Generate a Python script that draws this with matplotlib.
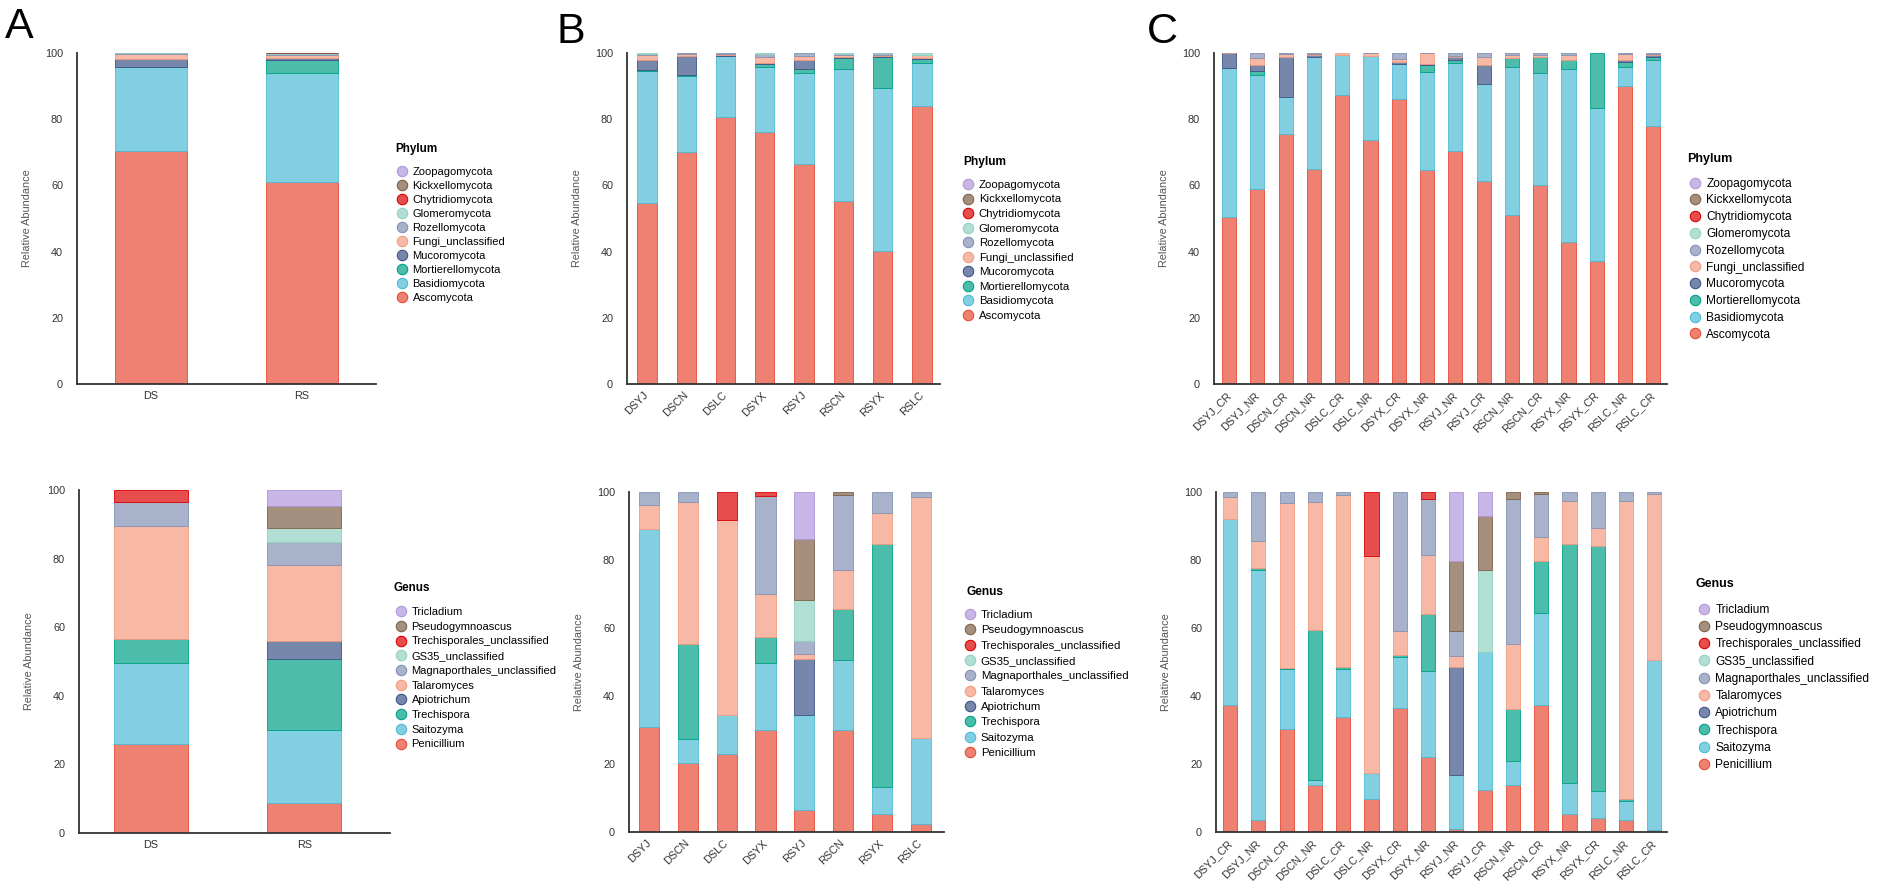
import matplotlib
matplotlib.use('Agg')
import matplotlib.pyplot as plt
from matplotlib.lines import Line2D
import numpy as np

plt.rcParams['font.family'] = ['Liberation Sans', 'DejaVu Sans']

W, H = 1902, 896

# taxa in stacking order (bottom -> top)
phyla = ['Ascomycota', 'Basidiomycota', 'Mortierellomycota', 'Mucoromycota',
         'Fungi_unclassified', 'Rozellomycota', 'Glomeromycota',
         'Chytridiomycota', 'Kickxellomycota', 'Zoopagomycota']
genera = ['Penicillium', 'Saitozyma', 'Trechispora', 'Apiotrichum',
          'Talaromyces', 'Magnaporthales_unclassified', 'GS35_unclassified',
          'Trechisporales_unclassified', 'Pseudogymnoascus', 'Tricladium']

base_colors = ['#E64B35', '#4DBBD5', '#00A087', '#3C5488', '#F39B7F',
               '#8491B4', '#91D1C2', '#DC0000', '#7E6148', '#B097DB']

groups_A = ['DS', 'RS']
groups_B = ['DSYJ', 'DSCN', 'DSLC', 'DSYX', 'RSYJ', 'RSCN', 'RSYX', 'RSLC']
groups_C = ['DSYJ_CR', 'DSYJ_NR', 'DSCN_CR', 'DSCN_NR', 'DSLC_CR', 'DSLC_NR',
            'DSYX_CR', 'DSYX_NR', 'RSYJ_NR', 'RSYJ_CR', 'RSCN_NR', 'RSCN_CR',
            'RSYX_NR', 'RSYX_CR', 'RSLC_NR', 'RSLC_CR']

# relative abundance (%), one row per taxon
phylum_A = [
    [70.5, 61.0],
    [25.3, 33.0],
    [0.1, 4.0],
    [2.4, 0.5],
    [1.3, 1.0],
    [0.3, 0.3],
    [0.1, 0.1],
    [0.0, 0.05],
    [0.0, 0.05],
    [0.0, 0.0],
]
genus_A = [
    [26.0, 8.7],
    [23.7, 21.4],
    [7.0, 20.6],
    [0.0, 5.2],
    [32.8, 22.3],
    [7.1, 6.5],
    [0.0, 4.1],
    [3.4, 0.0],
    [0.0, 6.5],
    [0.0, 4.7],
]

phylum_B = [
    [54.6, 70.0, 80.6, 76.0, 66.5, 55.3, 40.3, 83.9],
    [40.0, 23.2, 18.4, 19.7, 27.5, 39.9, 49.1, 13.1],
    [0.4, 0.1, 0.1, 1.1, 1.2, 3.3, 9.3, 1.2],
    [3.0, 5.8, 0.3, 0.1, 2.8, 0.4, 0.3, 0.3],
    [1.3, 0.7, 0.4, 1.9, 1.2, 0.5, 0.5, 0.8],
    [0.5, 0.2, 0.2, 1.0, 0.8, 0.4, 0.4, 0.2],
    [0.1, 0.0, 0.0, 0.1, 0.0, 0.2, 0.1, 0.5],
    [0.0, 0.0, 0.0, 0.0, 0.0, 0.0, 0.0, 0.0],
    [0.0, 0.0, 0.0, 0.0, 0.0, 0.0, 0.0, 0.0],
    [0.0, 0.0, 0.0, 0.0, 0.0, 0.0, 0.0, 0.0],
]
genus_B = [
    [30.9, 20.3, 23.0, 29.9, 6.4, 29.9, 5.2, 2.3],
    [58.3, 7.0, 11.3, 19.8, 28.1, 20.6, 8.0, 25.3],
    [0.0, 28.1, 0.0, 7.8, 0.0, 15.2, 71.6, 0.0],
    [0.0, 0.0, 0.0, 0.0, 16.5, 0.0, 0.0, 0.0],
    [6.9, 41.7, 57.4, 12.6, 1.3, 11.3, 9.0, 70.9],
    [3.9, 2.9, 0.0, 28.6, 3.9, 22.0, 6.2, 1.5],
    [0.0, 0.0, 0.0, 0.0, 11.9, 0.0, 0.0, 0.0],
    [0.0, 0.0, 8.3, 1.3, 0.0, 0.0, 0.0, 0.0],
    [0.0, 0.0, 0.0, 0.0, 18.1, 1.0, 0.0, 0.0],
    [0.0, 0.0, 0.0, 0.0, 13.8, 0.0, 0.0, 0.0],
]

phylum_C = [
    [50.5, 59.0, 75.5, 65.1, 87.2, 73.8, 86.1, 64.8, 70.3, 61.2, 51.1, 60.2, 42.9, 37.3, 89.9, 77.8],
    [45.0, 34.5, 11.3, 33.7, 12.3, 25.2, 10.6, 29.6, 26.7, 29.5, 44.6, 33.8, 52.4, 46.1, 5.8, 20.0],
    [0.1, 1.0, 0.0, 0.0, 0.0, 0.0, 0.0, 1.9, 1.0, 0.0, 2.8, 4.8, 2.7, 16.6, 1.5, 1.0],
    [4.3, 1.8, 11.9, 0.6, 0.0, 0.0, 0.7, 0.3, 0.8, 5.8, 0.1, 0.0, 0.0, 0.0, 0.6, 0.5],
    [0.1, 2.2, 1.1, 0.4, 0.5, 0.9, 0.8, 3.3, 0.2, 2.3, 0.9, 0.7, 1.3, 0.0, 2.0, 0.3],
    [0.0, 1.5, 0.2, 0.2, 0.0, 0.1, 1.8, 0.1, 1.0, 1.2, 0.5, 0.5, 0.7, 0.0, 0.2, 0.4],
    [0.0] * 16,
    [0.0] * 16,
    [0.0] * 16,
    [0.0] * 16,
]
genus_C = [
    [37.5, 3.4, 30.4, 13.7, 33.8, 9.6, 36.6, 22.1, 0.8, 12.3, 13.9, 37.5, 5.4, 4.1, 3.6, 0.5],
    [54.6, 73.6, 17.4, 1.7, 14.1, 7.9, 14.9, 25.4, 16.1, 40.5, 6.9, 27.0, 9.1, 8.0, 5.5, 50.0],
    [0.0, 0.6, 0.4, 43.9, 0.5, 0.0, 0.6, 16.7, 0.0, 0.0, 15.5, 15.2, 70.3, 72.0, 0.5, 0.0],
    [0.0, 0.0, 0.0, 0.0, 0.0, 0.0, 0.0, 0.0, 31.6, 0.0, 0.0, 0.0, 0.0, 0.0, 0.0, 0.0],
    [6.4, 7.9, 48.7, 37.8, 50.8, 63.7, 7.0, 17.4, 3.3, 0.0, 19.1, 7.1, 12.5, 5.4, 87.9, 49.0],
    [1.5, 14.5, 3.1, 2.9, 0.8, 0.0, 40.9, 16.4, 7.2, 0.0, 42.6, 12.7, 2.7, 10.5, 2.5, 0.5],
    [0.0, 0.0, 0.0, 0.0, 0.0, 0.0, 0.0, 0.0, 0.0, 24.4, 0.0, 0.0, 0.0, 0.0, 0.0, 0.0],
    [0.0, 0.0, 0.0, 0.0, 0.0, 18.8, 0.0, 2.0, 0.0, 0.0, 0.0, 0.0, 0.0, 0.0, 0.0, 0.0],
    [0.0, 0.0, 0.0, 0.0, 0.0, 0.0, 0.0, 0.0, 20.7, 15.6, 2.0, 0.5, 0.0, 0.0, 0.0, 0.0],
    [0.0, 0.0, 0.0, 0.0, 0.0, 0.0, 0.0, 0.0, 20.3, 7.2, 0.0, 0.0, 0.0, 0.0, 0.0, 0.0],
]


def lighten(hexcol, alpha=0.7):
    rgb = np.array(matplotlib.colors.to_rgb(hexcol))
    return tuple(rgb * alpha + (1 - alpha))


fills = [lighten(c) for c in base_colors]

fig = plt.figure(figsize=(W / 100, H / 100), dpi=100)


def px_axes(l, r, t, b):
    return fig.add_axes([l / W, 1 - b / H, (r - l) / W, (b - t) / H])


def stacked(ax, names, rows, xlim, width, rotate, axw):
    x = np.arange(len(names))
    bottom = np.zeros(len(names))
    for vals, fc, ec in zip(rows, fills, base_colors):
        vals = np.array(vals, dtype=float)
        edges = [ec if v > 0 else 'none' for v in vals]
        ax.bar(x, vals, width, bottom=bottom, color=fc, edgecolor=edges,
               linewidth=0.6)
        bottom += vals
    ax.set_xlim(*xlim)
    ax.set_ylim(0, 100)
    ax.set_yticks([0, 20, 40, 60, 80, 100])
    for s in ['top', 'right']:
        ax.spines[s].set_visible(False)
    for s in ['left', 'bottom']:
        ax.spines[s].set_color('#333333')
        ax.spines[s].set_linewidth(1.3)
    ax.tick_params(axis='y', length=0, pad=10, labelsize=7.8, labelcolor='#333333')
    if rotate:
        ax.set_xticks(x, names, rotation=45, ha='right', va='center',
                      rotation_mode='anchor')
        ax.tick_params(axis='x', length=0, pad=7, labelsize=7.8, labelcolor='#333333')
    else:
        ax.set_xticks(x, names)
        ax.tick_params(axis='x', length=0, pad=5, labelsize=7.8, labelcolor='#333333')
    ax.set_ylabel('Relative Abundance', fontsize=7.8, color='#555555')
    ax.yaxis.set_label_coords(-45 / axw, 0.5)


def add_legend(ax, title, labels, tx, ty, mx, fy, fs, spacing):
    handles = [Line2D([0], [0], marker='o', ls='', markersize=7.5,
                      markerfacecolor=fc, markeredgecolor=ec, markeredgewidth=0.8)
               for fc, ec in zip(fills, base_colors)][::-1]
    fs_px = fs * 100 / 72
    hl = 1.0
    row_h = fs_px * 0.89
    lab_sp = (spacing - row_h) / fs_px
    leg = ax.legend(handles, labels[::-1], loc='upper left',
                    bbox_to_anchor=((mx - hl * fs_px / 2) / W, 1 - (fy - row_h / 2) / H),
                    bbox_transform=fig.transFigure, frameon=False, fontsize=fs,
                    handlelength=hl, handletextpad=0.45, labelspacing=lab_sp,
                    borderpad=0, borderaxespad=0)
    fig.text(tx / W, 1 - ty / H, title, fontsize=fs + 0.4, fontweight='bold',
             va='center', ha='left')
    return leg


# panel A
ax = px_axes(77, 376, 53, 384)
stacked(ax, groups_A, phylum_A, (-0.49, 1.49), 0.48, False, 299)
add_legend(ax, 'Phylum', phyla, 395, 149, 402, 172, 8.0, 13.9)

ax = px_axes(79, 390, 490, 833)
stacked(ax, groups_A, genus_A, (-0.47, 1.56), 0.48, False, 311)
add_legend(ax, 'Genus', genera, 393, 588, 401, 612, 8.0, 14.6)

# panel B
ax = px_axes(627, 940, 53, 384)
stacked(ax, groups_B, phylum_B, (-0.51, 7.46), 0.49, True, 313)
add_legend(ax, 'Phylum', phyla, 963, 162, 968, 185, 8.2, 14.7)

ax = px_axes(629, 944, 492, 832)
stacked(ax, groups_B, genus_B, (-0.52, 7.6), 0.52, True, 315)
add_legend(ax, 'Genus', genera, 967, 592, 970, 615, 8.2, 15.5)

# panel C
ax = px_axes(1214, 1667, 53, 384)
stacked(ax, groups_C, phylum_C, (-0.53, 15.48), 0.5, True, 453)
add_legend(ax, 'Phylum', phyla, 1687, 159, 1695, 183, 8.6, 15.4)

ax = px_axes(1216, 1667, 492, 832)
stacked(ax, groups_C, genus_C, (-0.5, 15.45), 0.5, True, 451)
add_legend(ax, 'Genus', genera, 1696, 584, 1704, 609, 8.6, 15.9)

# panel letters
for letter, lx, ly in [('A', 5, 38), ('B', 557, 43), ('C', 1147, 43)]:
    fig.text(lx / W, 1 - ly / H, letter, fontsize=31, va='baseline', ha='left')

fig.savefig('out.png', dpi=100)
